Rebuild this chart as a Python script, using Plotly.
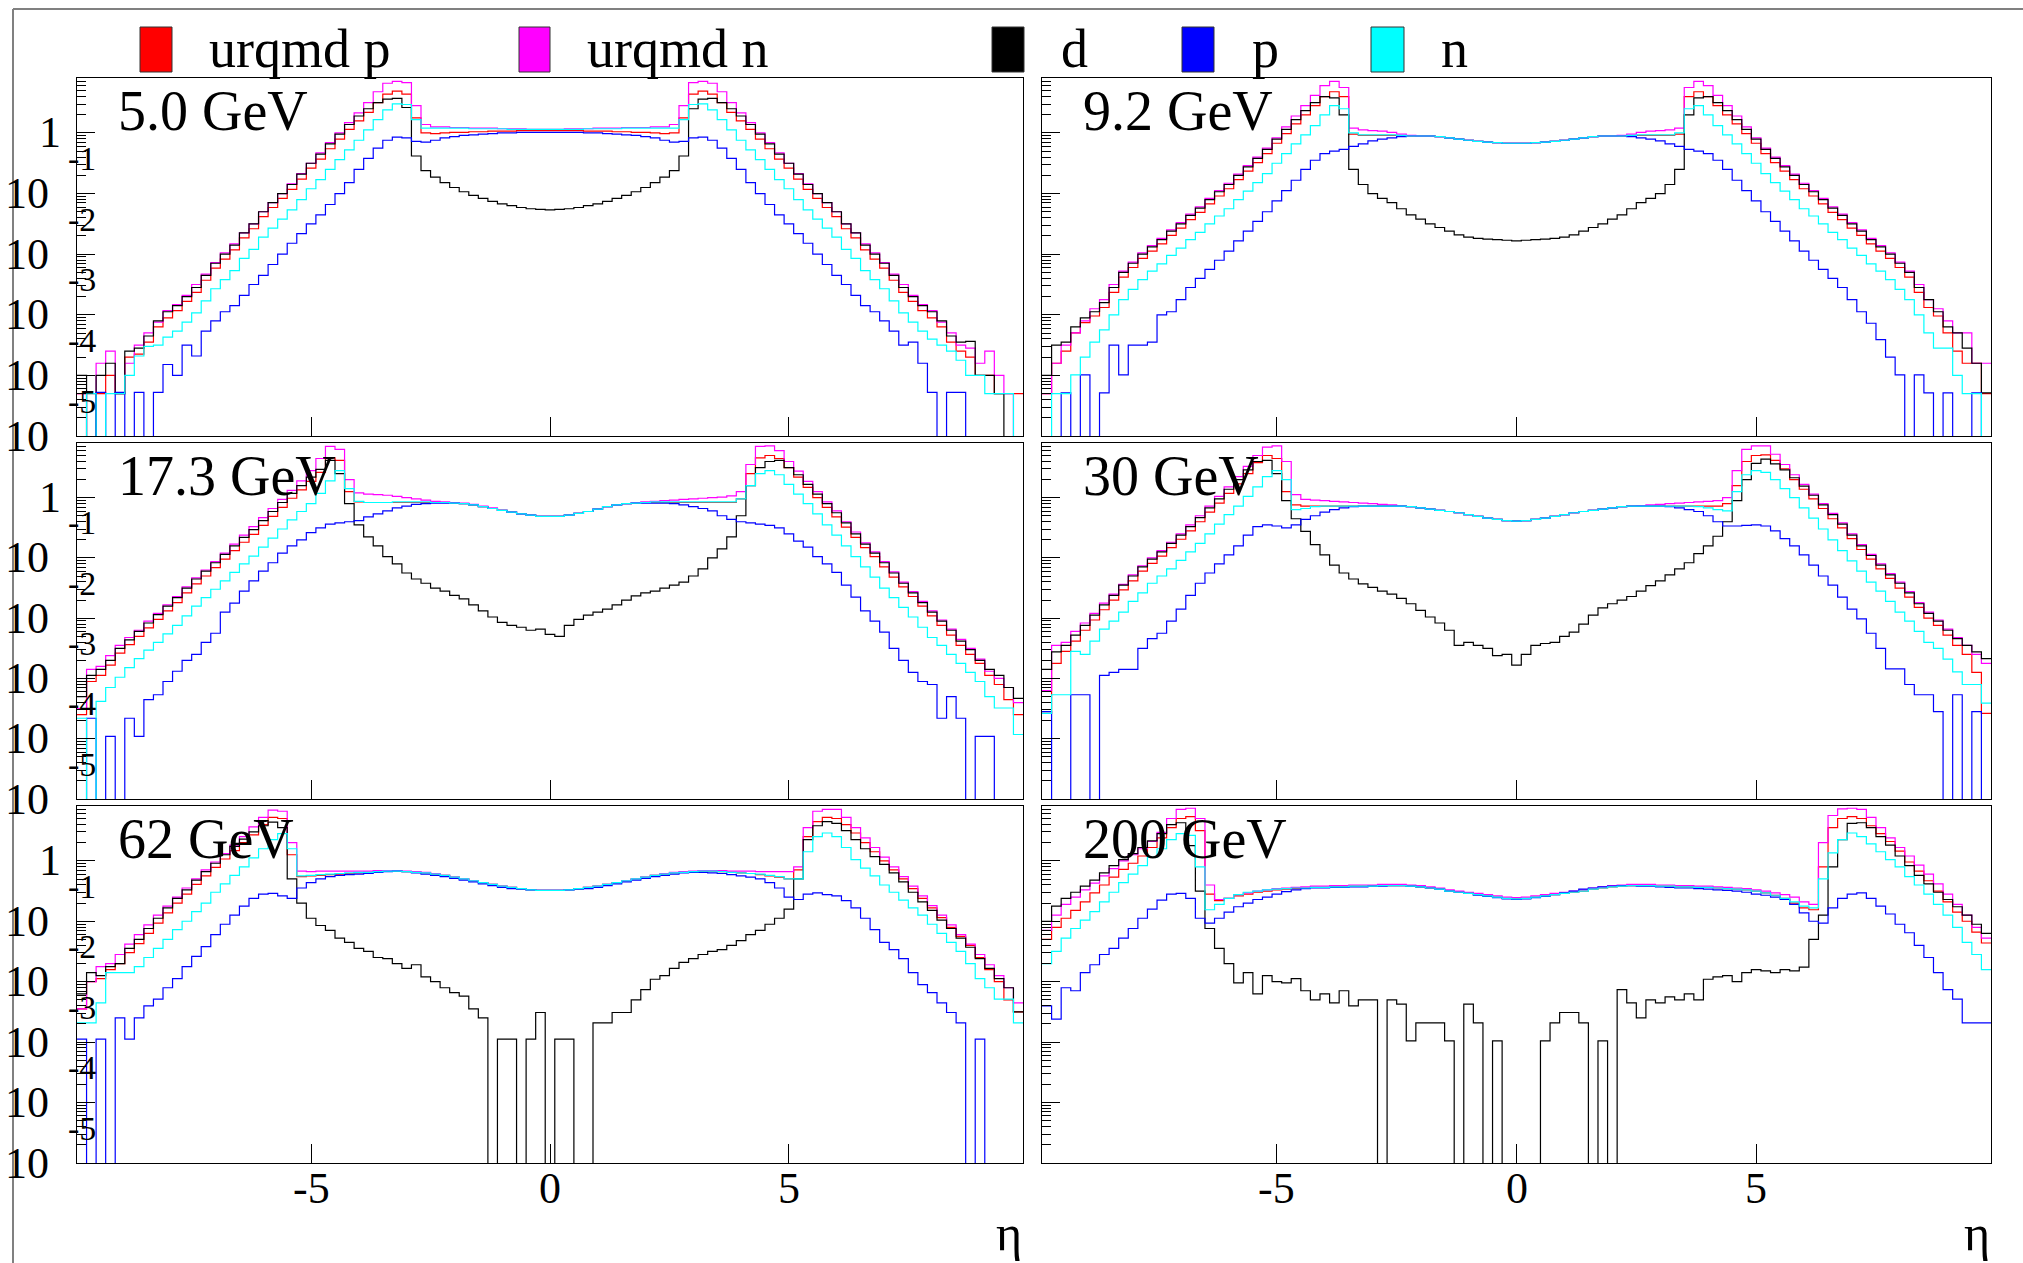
import plotly.graph_objects as go

N = None  # empty bin

# ---------------- data (log10 of dN/d eta, bins of 0.2 from -9.9 to 9.9) ----------------
X_MIN = -9.9
BIN_W = 0.2
N_BINS = 99

ENERGIES = ["5.0 GeV", "9.2 GeV", "17.3 GeV", "30 GeV", "62 GeV", "200 GeV"]
SERIES = ["urqmd p", "urqmd n", "d", "p", "n"]
COLORS = ["#ff0000", "#ff00ff", "#000000", "#0000ff", "#00ffff"]
X_TICKS = [-5, 0, 5]
X_TICK_TEXT = ["-5", "0", "5"]
Y_DECADES = [0, -1, -2, -3, -4, -5]

# ---- 5.0 GeV ----
E5_UP = [-4.3, -4.3, -4.3, -4.0, -4.3, -3.7, -3.65, -3.45, -3.2, -3.05,
         -2.93, -2.78, -2.63, -2.43, -2.23, -2.08, -1.93, -1.73, -1.58, -1.38,
         -1.23, -1.08, -0.93, -0.76, -0.58, -0.43, -0.26, -0.1, 0.06, 0.2,
         0.34, 0.5, 0.64, 0.69, 0.64, 0.25, 0.0, -0.01, 0.0, 0.01,
         0.01, 0.02, 0.02, 0.03, 0.03, 0.03, 0.04, 0.04, 0.04, 0.04,
         0.04, 0.04, 0.04, 0.03, 0.03, 0.03, 0.02, 0.02, 0.01, 0.01,
         0.0, -0.01, 0.0, 0.25, 0.64, 0.69, 0.64, 0.5, 0.34, 0.2,
         0.06, -0.1, -0.26, -0.43, -0.58, -0.76, -0.93, -1.08, -1.23, -1.38,
         -1.58, -1.73, -1.93, -2.08, -2.23, -2.43, -2.63, -2.78, -2.93, -3.05,
         -3.2, -3.45, -3.6, -3.7, -4.0, -4.0, -4.3, -4.3, -4.3]
E5_UN = [-4.3, N, -3.8, -3.6, -4.3, -3.8, -3.5, -3.3, -3.12, -2.93,
         -2.83, -2.68, -2.5, -2.33, -2.14, -1.98, -1.83, -1.65, -1.5, -1.3,
         -1.15, -1.0, -0.84, -0.67, -0.5, -0.33, -0.16, 0.0, 0.17, 0.33,
         0.5, 0.68, 0.82, 0.85, 0.83, 0.45, 0.14, 0.1, 0.1, 0.09,
         0.09, 0.08, 0.08, 0.08, 0.07, 0.07, 0.07, 0.06, 0.06, 0.06,
         0.06, 0.07, 0.07, 0.07, 0.08, 0.08, 0.08, 0.09, 0.09, 0.09,
         0.1, 0.1, 0.14, 0.45, 0.83, 0.85, 0.82, 0.68, 0.5, 0.33,
         0.17, 0.0, -0.16, -0.33, -0.5, -0.67, -0.84, -1.0, -1.15, -1.3,
         -1.5, -1.65, -1.83, -1.98, -2.14, -2.33, -2.5, -2.68, -2.83, -2.93,
         -3.12, -3.3, -3.5, -3.55, -3.8, -3.6, -4.0, -4.3, N]
E5_D = [-4.0, N, -4.0, -3.8, -4.3, -3.6, -3.55, -3.35, -3.1, -2.95,
        -2.85, -2.7, -2.55, -2.35, -2.15, -2.0, -1.85, -1.65, -1.5, -1.3,
        -1.15, -1.0, -0.85, -0.68, -0.5, -0.35, -0.18, -0.02, 0.14, 0.28,
        0.4, 0.5, 0.56, 0.57, 0.42, -0.38, -0.62, -0.73, -0.82, -0.9,
        -0.97, -1.03, -1.08, -1.13, -1.17, -1.2, -1.23, -1.25, -1.26, -1.27,
        -1.26, -1.25, -1.23, -1.2, -1.17, -1.13, -1.08, -1.03, -0.97, -0.9,
        -0.82, -0.73, -0.62, -0.38, 0.4, 0.56, 0.57, 0.5, 0.4, 0.28,
        0.14, -0.02, -0.18, -0.35, -0.5, -0.68, -0.85, -1.0, -1.15, -1.3,
        -1.5, -1.65, -1.85, -2.0, -2.15, -2.35, -2.55, -2.7, -2.85, -2.95,
        -3.1, -3.35, -3.45, -3.44, -4.0, -4.0, -4.3, N, N]
E5_P = [N, N, -4.28, N, -4.28, N, -4.28, N, -4.28, -3.82,
        -4.0, -3.5, -3.68, -3.27, -3.1, -2.95, -2.85, -2.68, -2.5, -2.35,
        -2.17, -2.0, -1.82, -1.66, -1.5, -1.35, -1.18, -1.0, -0.82, -0.6,
        -0.42, -0.25, -0.12, -0.07, -0.08, -0.14, -0.15, -0.12, -0.08, -0.06,
        -0.04, -0.03, -0.02, -0.01, 0.0, 0.0, 0.01, 0.01, 0.01, 0.01,
        0.01, 0.01, 0.01, 0.0, 0.0, -0.01, -0.02, -0.03, -0.04, -0.06,
        -0.08, -0.12, -0.15, -0.14, -0.08, -0.07, -0.12, -0.25, -0.42, -0.6,
        -0.82, -1.0, -1.18, -1.35, -1.5, -1.66, -1.82, -2.0, -2.17, -2.35,
        -2.5, -2.68, -2.85, -2.95, -3.1, -3.27, -3.5, -3.45, -3.8, -4.28,
        N, -4.28, -4.28, N, N, N, N, N, N]
E5_N = [N, -4.3, N, -4.3, -4.3, -4.0, -3.68, -3.52, -3.5, -3.37,
        -3.27, -3.12, -2.97, -2.77, -2.57, -2.42, -2.27, -2.07, -1.92, -1.72,
        -1.57, -1.42, -1.27, -1.1, -0.92, -0.77, -0.6, -0.44, -0.28, -0.12,
        0.05, 0.22, 0.38, 0.48, 0.47, 0.22, 0.08, 0.08, 0.08, 0.08,
        0.08, 0.07, 0.07, 0.07, 0.07, 0.06, 0.06, 0.06, 0.06, 0.06,
        0.06, 0.06, 0.06, 0.07, 0.07, 0.07, 0.07, 0.08, 0.08, 0.08,
        0.08, 0.08, 0.08, 0.22, 0.47, 0.48, 0.38, 0.22, 0.05, -0.12,
        -0.28, -0.44, -0.6, -0.77, -0.92, -1.1, -1.27, -1.42, -1.57, -1.72,
        -1.92, -2.07, -2.27, -2.42, -2.57, -2.77, -2.97, -3.12, -3.27, -3.4,
        -3.5, -3.6, -3.75, -4.0, -4.0, -4.3, -4.3, -4.3, N]

# ---- 9.2 GeV ----
E9_UP = [-4.3, -3.8, -3.6, -3.3, -3.13, -3.02, -2.88, -2.63, -2.38, -2.22,
         -2.07, -1.95, -1.83, -1.69, -1.57, -1.43, -1.31, -1.17, -1.04, -0.92,
         -0.77, -0.63, -0.49, -0.34, -0.17, -0.01, 0.15, 0.3, 0.45, 0.6,
         0.68, 0.6, -0.02, -0.04, -0.04, -0.04, -0.04, -0.05, -0.05, -0.05,
         -0.05, -0.06, -0.08, -0.1, -0.12, -0.14, -0.15, -0.16, -0.17, -0.17,
         -0.17, -0.16, -0.15, -0.14, -0.12, -0.1, -0.08, -0.06, -0.05, -0.05,
         -0.05, -0.05, -0.04, -0.04, -0.04, -0.04, -0.02, 0.6, 0.68, 0.6,
         0.45, 0.3, 0.15, -0.01, -0.17, -0.34, -0.49, -0.63, -0.77, -0.92,
         -1.04, -1.17, -1.31, -1.43, -1.57, -1.69, -1.83, -1.95, -2.07, -2.22,
         -2.38, -2.63, -2.88, -3.02, -3.3, -3.6, -3.8, -3.8, -4.3]
E9_UN = [-4.3, -3.8, -3.5, -3.3, -3.1, -2.9, -2.75, -2.5, -2.28, -2.13,
         -1.98, -1.86, -1.74, -1.6, -1.48, -1.34, -1.22, -1.08, -0.95, -0.83,
         -0.68, -0.54, -0.4, -0.25, -0.08, 0.1, 0.28, 0.45, 0.62, 0.78,
         0.85, 0.75, 0.08, 0.05, 0.04, 0.03, 0.01, -0.02, -0.04, -0.05,
         -0.05, -0.06, -0.08, -0.1, -0.12, -0.14, -0.15, -0.16, -0.17, -0.17,
         -0.17, -0.16, -0.15, -0.14, -0.12, -0.1, -0.08, -0.06, -0.05, -0.05,
         -0.04, -0.02, 0.01, 0.03, 0.04, 0.05, 0.08, 0.75, 0.85, 0.78,
         0.62, 0.45, 0.28, 0.1, -0.08, -0.25, -0.4, -0.54, -0.68, -0.83,
         -0.95, -1.08, -1.22, -1.34, -1.48, -1.6, -1.74, -1.86, -1.98, -2.13,
         -2.28, -2.5, -2.75, -2.9, -3.1, -3.3, -3.3, -3.8, -3.8]
E9_D = [-4.0, -3.5, -3.45, -3.2, -3.05, -2.95, -2.8, -2.55, -2.3, -2.15,
        -2.0, -1.88, -1.76, -1.62, -1.5, -1.36, -1.24, -1.1, -0.97, -0.85,
        -0.7, -0.56, -0.42, -0.27, -0.1, 0.06, 0.22, 0.37, 0.5, 0.6,
        0.58, 0.3, -0.6, -0.85, -1.0, -1.08, -1.15, -1.25, -1.35, -1.42,
        -1.5, -1.56, -1.62, -1.68, -1.72, -1.74, -1.75, -1.76, -1.77, -1.78,
        -1.77, -1.76, -1.75, -1.74, -1.72, -1.68, -1.62, -1.56, -1.5, -1.42,
        -1.35, -1.25, -1.15, -1.08, -1.0, -0.85, -0.6, 0.3, 0.58, 0.6,
        0.5, 0.37, 0.22, 0.06, -0.1, -0.27, -0.42, -0.56, -0.7, -0.85,
        -0.97, -1.1, -1.24, -1.36, -1.5, -1.62, -1.76, -1.88, -2.0, -2.15,
        -2.3, -2.55, -2.75, -2.95, -3.2, -3.3, -3.55, -3.8, -4.29]
E9_P = [N, N, -4.29, N, -3.99, N, -4.29, -3.5, -3.99, -3.5,
        -3.5, -3.45, -3.0, -2.95, -2.75, -2.55, -2.4, -2.25, -2.1, -1.95,
        -1.78, -1.62, -1.46, -1.3, -1.12, -0.95, -0.78, -0.6, -0.45, -0.34,
        -0.3, -0.27, -0.22, -0.18, -0.13, -0.1, -0.08, -0.06, -0.05, -0.05,
        -0.05, -0.06, -0.08, -0.1, -0.12, -0.14, -0.15, -0.16, -0.17, -0.17,
        -0.17, -0.16, -0.15, -0.14, -0.12, -0.1, -0.08, -0.06, -0.05, -0.05,
        -0.05, -0.06, -0.08, -0.1, -0.13, -0.18, -0.22, -0.27, -0.3, -0.34,
        -0.45, -0.6, -0.78, -0.95, -1.12, -1.3, -1.46, -1.62, -1.78, -1.95,
        -2.1, -2.25, -2.4, -2.55, -2.75, -2.95, -3.14, -3.41, -3.7, -3.99,
        N, -3.99, -4.29, N, -4.29, N, N, -4.29, N]
E9_N = [N, -4.3, -4.3, -3.99, -3.7, -3.45, -3.25, -3.0, -2.75, -2.58,
        -2.42, -2.28, -2.16, -2.02, -1.9, -1.76, -1.64, -1.5, -1.37, -1.25,
        -1.1, -0.96, -0.82, -0.67, -0.5, -0.34, -0.18, -0.03, 0.12, 0.3,
        0.45, 0.4, 0.0, -0.03, -0.03, -0.03, -0.03, -0.04, -0.05, -0.05,
        -0.05, -0.06, -0.08, -0.1, -0.12, -0.14, -0.15, -0.16, -0.17, -0.17,
        -0.17, -0.16, -0.15, -0.14, -0.12, -0.1, -0.08, -0.06, -0.05, -0.05,
        -0.05, -0.04, -0.03, -0.03, -0.03, -0.03, 0.0, 0.4, 0.45, 0.3,
        0.12, -0.03, -0.18, -0.34, -0.5, -0.67, -0.82, -0.96, -1.1, -1.25,
        -1.37, -1.5, -1.64, -1.76, -1.9, -2.02, -2.16, -2.28, -2.42, -2.58,
        -2.75, -3.0, -3.3, -3.55, -3.55, -4.0, -4.3, -4.3, N]

# ---- 17.3 GeV ----
E17_UP = [-3.6, -3.05, -2.95, -2.78, -2.58, -2.44, -2.3, -2.16, -2.02, -1.88,
          -1.74, -1.58, -1.43, -1.3, -1.16, -1.02, -0.88, -0.74, -0.61, -0.46,
          -0.31, -0.16, -0.01, 0.13, 0.27, 0.42, 0.66, 0.62, 0.1, -0.07,
          -0.08, -0.08, -0.08, -0.08, -0.08, -0.08, -0.08, -0.08, -0.08, -0.09,
          -0.1, -0.12, -0.15, -0.18, -0.21, -0.24, -0.27, -0.29, -0.31, -0.31,
          -0.31, -0.29, -0.26, -0.23, -0.19, -0.15, -0.12, -0.1, -0.09, -0.08,
          -0.08, -0.08, -0.08, -0.08, -0.08, -0.08, -0.08, -0.08, -0.08, -0.02,
          0.4, 0.66, 0.7, 0.65, 0.5, 0.34, 0.17, 0.0, -0.16, -0.32,
          -0.49, -0.66, -0.83, -0.98, -1.15, -1.32, -1.48, -1.64, -1.8, -1.96,
          -2.12, -2.28, -2.45, -2.6, -2.75, -2.95, -3.1, -3.35, -3.6]
E17_UN = [-3.5, -2.85, -2.8, -2.62, -2.45, -2.32, -2.2, -2.05, -1.92, -1.78,
          -1.64, -1.48, -1.33, -1.2, -1.06, -0.92, -0.77, -0.62, -0.48, -0.33,
          -0.18, -0.03, 0.12, 0.28, 0.45, 0.65, 0.85, 0.8, 0.3, 0.08,
          0.06, 0.05, 0.04, 0.02, 0.0, -0.02, -0.04, -0.06, -0.07, -0.08,
          -0.09, -0.11, -0.14, -0.17, -0.21, -0.24, -0.27, -0.29, -0.31, -0.31,
          -0.31, -0.29, -0.26, -0.23, -0.19, -0.15, -0.12, -0.1, -0.08, -0.07,
          -0.06, -0.05, -0.04, -0.03, -0.02, -0.01, 0.0, 0.01, 0.03, 0.1,
          0.55, 0.85, 0.86, 0.78, 0.6, 0.44, 0.27, 0.1, -0.07, -0.22,
          -0.4, -0.57, -0.75, -0.9, -1.06, -1.23, -1.4, -1.56, -1.72, -1.88,
          -2.03, -2.18, -2.35, -2.5, -2.68, -2.88, -3.0, -3.15, -3.4]
E17_D = [-3.3, -2.95, -2.85, -2.7, -2.5, -2.36, -2.22, -2.08, -1.94, -1.8,
         -1.66, -1.5, -1.35, -1.22, -1.08, -0.94, -0.8, -0.66, -0.53, -0.38,
         -0.23, -0.08, 0.07, 0.2, 0.34, 0.47, 0.62, 0.4, -0.1, -0.45,
         -0.65, -0.8, -0.98, -1.1, -1.25, -1.35, -1.42, -1.5, -1.55, -1.62,
         -1.68, -1.78, -1.88, -1.98, -2.07, -2.12, -2.15, -2.2, -2.18, -2.27,
         -2.3, -2.12, -2.02, -1.95, -1.9, -1.85, -1.78, -1.7, -1.63, -1.58,
         -1.55, -1.5, -1.45, -1.4, -1.3, -1.18, -1.0, -0.85, -0.65, -0.3,
         0.2, 0.5, 0.6, 0.62, 0.5, 0.38, 0.22, 0.06, -0.1, -0.25,
         -0.42, -0.6, -0.77, -0.92, -1.08, -1.25, -1.42, -1.58, -1.74, -1.9,
         -2.05, -2.2, -2.38, -2.52, -2.7, -2.85, -2.95, -3.15, -3.33]
E17_P = [N, -3.66, N, -3.96, N, -3.66, -3.96, -3.35, -3.27, -3.05,
         -2.88, -2.7, -2.6, -2.4, -2.25, -1.9, -1.75, -1.55, -1.38, -1.22,
         -1.08, -0.92, -0.8, -0.7, -0.58, -0.5, -0.44, -0.42, -0.4, -0.38,
         -0.32, -0.27, -0.22, -0.17, -0.14, -0.11, -0.1, -0.09, -0.09, -0.09,
         -0.1, -0.12, -0.15, -0.18, -0.21, -0.24, -0.27, -0.29, -0.31, -0.31,
         -0.31, -0.29, -0.26, -0.23, -0.19, -0.15, -0.12, -0.1, -0.09, -0.09,
         -0.09, -0.09, -0.1, -0.12, -0.15, -0.18, -0.22, -0.3, -0.36, -0.4,
         -0.42, -0.44, -0.46, -0.5, -0.6, -0.72, -0.82, -0.98, -1.1, -1.24,
         -1.45, -1.65, -1.88, -2.05, -2.23, -2.5, -2.7, -2.9, -3.05, -3.1,
         -3.66, -3.3, -3.66, N, -3.96, -3.96, N, N, N]
E17_N = [-3.66, N, -3.38, -3.15, -2.98, -2.82, -2.67, -2.53, -2.4, -2.26,
         -2.12, -1.96, -1.8, -1.66, -1.52, -1.38, -1.24, -1.1, -0.97, -0.82,
         -0.67, -0.52, -0.37, -0.23, -0.1, 0.07, 0.28, 0.45, 0.15, -0.06,
         -0.08, -0.08, -0.08, -0.07, -0.07, -0.07, -0.07, -0.08, -0.08, -0.09,
         -0.1, -0.12, -0.15, -0.18, -0.21, -0.24, -0.27, -0.29, -0.31, -0.31,
         -0.31, -0.29, -0.26, -0.23, -0.19, -0.15, -0.12, -0.1, -0.09, -0.08,
         -0.07, -0.07, -0.07, -0.07, -0.07, -0.07, -0.07, -0.07, -0.07, -0.02,
         0.2, 0.4, 0.45, 0.38, 0.22, 0.06, -0.1, -0.27, -0.45, -0.62,
         -0.8, -0.98, -1.15, -1.32, -1.5, -1.66, -1.82, -1.98, -2.15, -2.32,
         -2.45, -2.6, -2.75, -2.9, -3.05, -3.3, -3.49, -3.49, -3.93]

# ---- 30 GeV ----
E30_UP = [-3.58, -2.75, -2.55, -2.38, -2.2, -2.03, -1.86, -1.7, -1.53, -1.38,
          -1.22, -1.09, -0.97, -0.83, -0.69, -0.55, -0.4, -0.24, -0.09, 0.07,
          0.23, 0.4, 0.58, 0.7, 0.65, 0.1, -0.12, -0.14, -0.14, -0.14,
          -0.14, -0.14, -0.14, -0.14, -0.14, -0.14, -0.14, -0.14, -0.15, -0.17,
          -0.19, -0.21, -0.23, -0.25, -0.28, -0.31, -0.34, -0.36, -0.38, -0.39,
          -0.38, -0.36, -0.34, -0.31, -0.28, -0.25, -0.23, -0.21, -0.19, -0.17,
          -0.15, -0.14, -0.14, -0.14, -0.14, -0.14, -0.14, -0.14, -0.14, -0.14,
          -0.14, -0.1, 0.2, 0.6, 0.7, 0.71, 0.62, 0.48, 0.3, 0.14,
          -0.02, -0.18, -0.35, -0.5, -0.68, -0.86, -1.02, -1.18, -1.34, -1.5,
          -1.65, -1.82, -2.0, -2.12, -2.28, -2.45, -2.6, -2.9, -3.58]
E30_UN = [-3.2, -2.45, -2.4, -2.22, -2.08, -1.92, -1.75, -1.6, -1.44, -1.28,
          -1.13, -1.0, -0.88, -0.74, -0.6, -0.45, -0.3, -0.14, 0.02, 0.18,
          0.35, 0.52, 0.7, 0.84, 0.86, 0.6, 0.05, -0.03, -0.04, -0.05,
          -0.06, -0.07, -0.08, -0.09, -0.1, -0.11, -0.12, -0.14, -0.15, -0.17,
          -0.19, -0.21, -0.23, -0.25, -0.28, -0.31, -0.34, -0.36, -0.38, -0.39,
          -0.38, -0.36, -0.34, -0.31, -0.28, -0.25, -0.23, -0.21, -0.19, -0.17,
          -0.15, -0.14, -0.13, -0.12, -0.11, -0.1, -0.09, -0.08, -0.07, -0.06,
          -0.05, 0.0, 0.45, 0.8, 0.86, 0.86, 0.72, 0.55, 0.38, 0.22,
          0.06, -0.1, -0.26, -0.42, -0.6, -0.78, -0.94, -1.1, -1.26, -1.4,
          -1.56, -1.74, -1.9, -2.03, -2.18, -2.32, -2.45, -2.6, -2.75]
E30_D = [-2.85, -2.56, -2.45, -2.28, -2.12, -1.95, -1.78, -1.62, -1.45, -1.3,
         -1.15, -1.02, -0.9, -0.76, -0.62, -0.48, -0.33, -0.17, -0.02, 0.14,
         0.3, 0.46, 0.6, 0.62, 0.4, -0.05, -0.35, -0.56, -0.78, -0.95,
         -1.12, -1.25, -1.35, -1.43, -1.49, -1.55, -1.6, -1.67, -1.76, -1.87,
         -1.98, -2.08, -2.2, -2.45, -2.4, -2.45, -2.5, -2.62, -2.6, -2.78,
         -2.6, -2.45, -2.42, -2.4, -2.3, -2.23, -2.1, -1.95, -1.83, -1.76,
         -1.7, -1.64, -1.55, -1.46, -1.38, -1.28, -1.18, -1.08, -0.93, -0.8,
         -0.64, -0.4, -0.05, 0.3, 0.57, 0.64, 0.56, 0.46, 0.33, 0.19,
         0.04, -0.12, -0.28, -0.44, -0.62, -0.8, -0.96, -1.12, -1.28, -1.42,
         -1.58, -1.76, -1.92, -2.05, -2.2, -2.34, -2.45, -2.56, -2.67]
E30_P = [-3.55, N, N, -3.27, -3.27, N, -2.95, -2.9, -2.85, -2.85,
         -2.5, -2.34, -2.25, -2.05, -1.85, -1.62, -1.42, -1.25, -1.1, -0.95,
         -0.8, -0.62, -0.48, -0.45, -0.47, -0.5, -0.45, -0.36, -0.3, -0.24,
         -0.2, -0.17, -0.15, -0.14, -0.14, -0.14, -0.14, -0.14, -0.15, -0.17,
         -0.19, -0.21, -0.23, -0.25, -0.28, -0.31, -0.34, -0.36, -0.38, -0.39,
         -0.38, -0.36, -0.34, -0.31, -0.28, -0.25, -0.23, -0.21, -0.19, -0.17,
         -0.15, -0.14, -0.14, -0.14, -0.14, -0.15, -0.17, -0.2, -0.23, -0.3,
         -0.4, -0.47, -0.47, -0.46, -0.45, -0.47, -0.55, -0.68, -0.8, -0.95,
         -1.12, -1.3, -1.45, -1.65, -1.85, -2.01, -2.25, -2.5, -2.84, -2.84,
         -3.1, -3.27, -3.27, -3.55, N, -3.27, N, -3.55, N]
E30_N = [-3.58, -3.27, -3.27, -2.55, -2.6, -2.38, -2.18, -2.05, -1.9, -1.72,
         -1.58, -1.42, -1.3, -1.18, -1.04, -0.9, -0.76, -0.6, -0.44, -0.28,
         -0.14, 0.02, 0.18, 0.35, 0.45, 0.3, -0.2, -0.18, -0.15, -0.14,
         -0.14, -0.14, -0.14, -0.14, -0.14, -0.14, -0.14, -0.14, -0.15, -0.17,
         -0.19, -0.21, -0.23, -0.25, -0.28, -0.31, -0.34, -0.36, -0.38, -0.39,
         -0.38, -0.36, -0.34, -0.31, -0.28, -0.25, -0.23, -0.21, -0.19, -0.17,
         -0.15, -0.14, -0.14, -0.14, -0.14, -0.14, -0.14, -0.14, -0.15, -0.17,
         -0.2, -0.22, 0.1, 0.38, 0.45, 0.42, 0.3, 0.15, 0.0, -0.17,
         -0.34, -0.52, -0.7, -0.88, -1.05, -1.22, -1.4, -1.55, -1.72, -1.9,
         -2.05, -2.22, -2.4, -2.5, -2.68, -2.89, -3.1, -3.1, -3.41]

# ---- 62 GeV ----
E62_UP = [-2.45, -2.0, -1.95, -1.8, -1.7, -1.52, -1.37, -1.2, -1.03, -0.86,
          -0.7, -0.55, -0.39, -0.25, -0.11, 0.03, 0.17, 0.3, 0.43, 0.6,
          0.72, 0.7, 0.1, -0.26, -0.25, -0.24, -0.23, -0.22, -0.21, -0.2,
          -0.19, -0.18, -0.17, -0.17, -0.18, -0.19, -0.2, -0.22, -0.24, -0.27,
          -0.3, -0.33, -0.36, -0.39, -0.42, -0.44, -0.46, -0.48, -0.49, -0.49,
          -0.49, -0.48, -0.46, -0.44, -0.42, -0.39, -0.36, -0.33, -0.3, -0.27,
          -0.24, -0.22, -0.2, -0.19, -0.18, -0.17, -0.17, -0.18, -0.19, -0.2,
          -0.21, -0.23, -0.25, -0.27, -0.3, -0.15, 0.4, 0.65, 0.72, 0.7,
          0.6, 0.46, 0.3, 0.15, 0.0, -0.15, -0.3, -0.46, -0.62, -0.78,
          -0.94, -1.1, -1.25, -1.4, -1.6, -1.8, -2.0, -2.3, -2.5]
E62_UN = [-2.45, -2.0, -1.75, -1.7, -1.55, -1.38, -1.22, -1.06, -0.9, -0.75,
          -0.6, -0.45, -0.3, -0.15, -0.02, 0.12, 0.26, 0.4, 0.56, 0.72,
          0.84, 0.82, 0.3, -0.17, -0.18, -0.17, -0.17, -0.17, -0.17, -0.17,
          -0.17, -0.16, -0.16, -0.16, -0.17, -0.18, -0.19, -0.21, -0.24, -0.27,
          -0.3, -0.33, -0.36, -0.39, -0.42, -0.44, -0.46, -0.48, -0.49, -0.49,
          -0.49, -0.48, -0.46, -0.44, -0.42, -0.39, -0.36, -0.33, -0.3, -0.27,
          -0.24, -0.21, -0.19, -0.18, -0.17, -0.16, -0.16, -0.16, -0.17, -0.17,
          -0.17, -0.18, -0.18, -0.18, -0.18, -0.1, 0.55, 0.82, 0.85, 0.85,
          0.72, 0.55, 0.38, 0.22, 0.06, -0.1, -0.26, -0.42, -0.58, -0.74,
          -0.9, -1.06, -1.22, -1.38, -1.55, -1.72, -1.9, -2.1, -2.35]
E62_D = [-2.2, -1.85, -1.9, -1.75, -1.7, -1.45, -1.3, -1.12, -0.95, -0.78,
         -0.62, -0.48, -0.32, -0.18, -0.04, 0.1, 0.24, 0.36, 0.48, 0.58,
         0.64, 0.55, -0.3, -0.7, -0.95, -1.07, -1.15, -1.28, -1.35, -1.45,
         -1.5, -1.6, -1.62, -1.7, -1.78, -1.72, -1.92, -2.0, -2.1, -2.18,
         -2.24, -2.45, -2.6, N, -2.95, -2.95, N, -2.95, -2.51, N,
         -2.95, -2.95, N, N, -2.68, -2.68, -2.51, -2.51, -2.3, -2.13,
         -1.96, -1.9, -1.78, -1.68, -1.62, -1.55, -1.5, -1.47, -1.4, -1.32,
         -1.22, -1.15, -1.05, -0.95, -0.8, -0.3, 0.35, 0.58, 0.65, 0.62,
         0.5, 0.35, 0.2, 0.07, -0.06, -0.2, -0.35, -0.52, -0.68, -0.82,
         -0.98, -1.12, -1.28, -1.43, -1.62, -1.78, -1.95, -2.1, -2.5]
E62_P = [-2.95, N, -2.95, N, -2.6, -2.95, -2.6, -2.4, -2.29, -2.1,
         -1.95, -1.75, -1.58, -1.42, -1.22, -1.05, -0.9, -0.75, -0.62, -0.55,
         -0.54, -0.58, -0.62, -0.45, -0.36, -0.3, -0.26, -0.24, -0.23, -0.22,
         -0.21, -0.19, -0.18, -0.17, -0.18, -0.2, -0.22, -0.24, -0.26, -0.29,
         -0.32, -0.35, -0.38, -0.41, -0.44, -0.46, -0.47, -0.48, -0.49, -0.49,
         -0.49, -0.48, -0.47, -0.46, -0.44, -0.41, -0.38, -0.35, -0.32, -0.29,
         -0.26, -0.24, -0.22, -0.2, -0.19, -0.19, -0.2, -0.21, -0.23, -0.25,
         -0.27, -0.3, -0.36, -0.45, -0.6, -0.64, -0.55, -0.53, -0.56, -0.58,
         -0.66, -0.78, -0.95, -1.14, -1.35, -1.47, -1.62, -1.85, -2.05, -2.18,
         -2.35, -2.51, -2.68, N, -2.95, N, N, N, N]
E62_N = [-2.68, -2.68, -2.35, -1.85, -1.85, -1.85, -1.75, -1.6, -1.45, -1.3,
         -1.14, -1.0, -0.84, -0.7, -0.52, -0.38, -0.24, -0.1, 0.05, 0.2,
         0.35, 0.45, 0.2, -0.25, -0.24, -0.23, -0.22, -0.21, -0.2, -0.19,
         -0.19, -0.18, -0.17, -0.17, -0.18, -0.19, -0.2, -0.22, -0.24, -0.27,
         -0.3, -0.33, -0.36, -0.39, -0.42, -0.44, -0.46, -0.48, -0.49, -0.49,
         -0.49, -0.48, -0.46, -0.44, -0.42, -0.39, -0.36, -0.33, -0.3, -0.27,
         -0.24, -0.22, -0.2, -0.19, -0.18, -0.17, -0.17, -0.18, -0.19, -0.2,
         -0.21, -0.22, -0.24, -0.26, -0.3, -0.3, 0.15, 0.4, 0.46, 0.4,
         0.22, 0.02, -0.12, -0.25, -0.4, -0.52, -0.65, -0.78, -0.9, -1.05,
         -1.2, -1.35, -1.5, -1.7, -1.95, -2.1, -2.29, -2.29, -2.68]

# ---- 200 GeV ----
E200_UP = [-1.3, -1.1, -0.95, -0.82, -0.68, -0.53, -0.4, -0.27, -0.14, -0.04,
           0.08, 0.22, 0.38, 0.55, 0.7, 0.73, 0.5, -0.55, -0.66, -0.62,
           -0.58, -0.55, -0.52, -0.5, -0.48, -0.47, -0.46, -0.45, -0.44, -0.44,
           -0.43, -0.43, -0.42, -0.42, -0.42, -0.41, -0.41, -0.41, -0.42, -0.43,
           -0.45, -0.47, -0.5, -0.52, -0.54, -0.56, -0.58, -0.6, -0.62, -0.63,
           -0.62, -0.6, -0.58, -0.56, -0.54, -0.52, -0.5, -0.47, -0.45, -0.43,
           -0.42, -0.41, -0.41, -0.41, -0.42, -0.42, -0.43, -0.43, -0.44, -0.44,
           -0.45, -0.46, -0.47, -0.48, -0.5, -0.53, -0.57, -0.62, -0.7, -0.78,
           -0.81, -0.1, 0.55, 0.7, 0.73, 0.7, 0.58, 0.45, 0.32, 0.16,
           -0.02, -0.17, -0.33, -0.5, -0.68, -0.85, -1.0, -1.18, -1.36]
E200_UN = [-1.15, -0.9, -0.72, -0.6, -0.48, -0.37, -0.25, -0.13, 0.0, 0.1,
           0.2, 0.32, 0.47, 0.7, 0.85, 0.87, 0.7, -0.4, -0.64, -0.62,
           -0.56, -0.53, -0.5, -0.48, -0.46, -0.45, -0.44, -0.43, -0.42, -0.42,
           -0.41, -0.41, -0.4, -0.4, -0.4, -0.39, -0.39, -0.39, -0.4, -0.41,
           -0.43, -0.45, -0.48, -0.5, -0.52, -0.54, -0.56, -0.58, -0.6, -0.61,
           -0.6, -0.58, -0.56, -0.54, -0.52, -0.5, -0.48, -0.45, -0.43, -0.41,
           -0.4, -0.39, -0.39, -0.39, -0.4, -0.4, -0.41, -0.41, -0.42, -0.42,
           -0.43, -0.44, -0.45, -0.46, -0.48, -0.5, -0.53, -0.56, -0.6, -0.68,
           -0.72, 0.3, 0.75, 0.86, 0.87, 0.85, 0.72, 0.55, 0.38, 0.22,
           0.08, -0.07, -0.22, -0.38, -0.55, -0.72, -0.9, -1.1, -1.28]
E200_D = [-1.0, -0.75, -0.62, -0.52, -0.42, -0.32, -0.2, -0.08, 0.02, 0.12,
          0.22, 0.33, 0.45, 0.6, 0.63, 0.25, -0.5, -1.12, -1.45, -1.7,
          -2.02, -1.85, -2.2, -1.9, -2.0, -2.02, -1.95, -2.15, -2.3, -2.2,
          -2.35, -2.15, -2.4, -2.3, -2.3, N, -2.3, -2.37, -2.98, -2.68,
          -2.68, -2.68, -2.98, N, -2.37, -2.68, N, -2.98, N, N,
          N, N, -2.98, -2.68, -2.51, -2.51, -2.68, N, -2.98, N,
          -2.13, -2.35, -2.6, -2.3, -2.35, -2.25, -2.3, -2.2, -2.3, -1.96,
          -1.92, -1.9, -2.0, -1.85, -1.8, -1.82, -1.85, -1.8, -1.82, -1.76,
          -1.3, -0.9, -0.1, 0.35, 0.62, 0.63, 0.55, 0.4, 0.26, 0.08,
          -0.08, -0.24, -0.38, -0.52, -0.64, -0.76, -0.9, -1.05, -1.2]
E200_P = [-2.4, -2.62, -2.1, -2.15, -1.85, -1.72, -1.55, -1.45, -1.28, -1.12,
          -0.95, -0.8, -0.65, -0.55, -0.54, -0.62, -0.95, -1.03, -0.95, -0.85,
          -0.76, -0.7, -0.64, -0.6, -0.55, -0.51, -0.48, -0.46, -0.45, -0.45,
          -0.44, -0.44, -0.43, -0.43, -0.42, -0.42, -0.41, -0.41, -0.42, -0.43,
          -0.45, -0.47, -0.5, -0.52, -0.54, -0.57, -0.59, -0.61, -0.63, -0.64,
          -0.63, -0.61, -0.59, -0.56, -0.53, -0.5, -0.47, -0.45, -0.43, -0.42,
          -0.41, -0.41, -0.42, -0.42, -0.43, -0.44, -0.45, -0.45, -0.46, -0.47,
          -0.48, -0.49, -0.5, -0.52, -0.55, -0.57, -0.6, -0.64, -0.72, -0.86,
          -1.0, -1.03, -0.78, -0.62, -0.55, -0.53, -0.62, -0.75, -0.88, -1.05,
          -1.19, -1.4, -1.6, -1.85, -2.13, -2.29, -2.68, -2.68, -2.68]
E200_N = [-1.7, -1.5, -1.28, -1.12, -0.98, -0.84, -0.68, -0.52, -0.36, -0.22,
          -0.08, 0.06, 0.2, 0.35, 0.45, 0.42, -0.1, -0.81, -0.72, -0.62,
          -0.56, -0.52, -0.5, -0.48, -0.47, -0.46, -0.45, -0.45, -0.44, -0.44,
          -0.43, -0.43, -0.42, -0.42, -0.42, -0.41, -0.41, -0.41, -0.42, -0.43,
          -0.45, -0.47, -0.5, -0.52, -0.54, -0.56, -0.58, -0.6, -0.62, -0.63,
          -0.62, -0.6, -0.58, -0.56, -0.54, -0.52, -0.5, -0.47, -0.45, -0.43,
          -0.42, -0.41, -0.41, -0.41, -0.42, -0.42, -0.43, -0.43, -0.44, -0.44,
          -0.45, -0.46, -0.47, -0.48, -0.5, -0.53, -0.57, -0.62, -0.68, -0.75,
          -0.78, -0.3, 0.13, 0.35, 0.46, 0.4, 0.28, 0.15, 0.02, -0.1,
          -0.26, -0.4, -0.55, -0.72, -0.9, -1.1, -1.35, -1.55, -1.8]

PANELS = [
    ("E5", [E5_UP, E5_UN, E5_D, E5_P, E5_N]),
    ("E9", [E9_UP, E9_UN, E9_D, E9_P, E9_N]),
    ("E17", [E17_UP, E17_UN, E17_D, E17_P, E17_N]),
    ("E30", [E30_UP, E30_UN, E30_D, E30_P, E30_N]),
    ("E62", [E62_UP, E62_UN, E62_D, E62_P, E62_N]),
    ("E200", [E200_UP, E200_UN, E200_D, E200_P, E200_N]),
]

# ---------------- layout geometry (pixels of the 2023 x 1263 canvas) ----------------
W, H = 2023, 1263
COL_PX = [(77, 1023), (1042, 1991)]
ROW_PX = [(78, 436), (443, 799), (806, 1163)]
Y_RANGE = [-5, 0.907]
FONT = "Liberation Serif"


def px_x(x):
    return x / W


def px_y(y):
    return 1 - y / H


edges = [round(X_MIN + BIN_W * k, 4) for k in range(N_BINS + 1)]

fig = go.Figure()
layout = dict(
    width=W, height=H, autosize=False,
    margin=dict(l=0, r=0, t=0, b=0, pad=0),
    paper_bgcolor="white", plot_bgcolor="white",
    showlegend=False,
)

minor_vals = []
for e in range(-5, 1):
    for m in range(2, 10):
        v = m * 10.0 ** e
        if v < 10 ** Y_RANGE[1]:
            minor_vals.append(v)

annotations = []
shapes = []

for k, (name, series) in enumerate(PANELS):
    row, col = divmod(k, 2)
    ax = "" if k == 0 else str(k + 1)
    x0, x1 = COL_PX[col]
    ytop, ybot = ROW_PX[row]
    layout["xaxis" + ax] = dict(
        domain=[px_x(x0), px_x(x1)], anchor="y" + ax, range=[-9.9, 9.9],
        tickmode="array", tickvals=X_TICKS, ticks="inside", ticklen=19,
        tickcolor="black", tickwidth=1, showticklabels=False,
        showline=True, mirror=True, linecolor="black", linewidth=1,
        showgrid=False, zeroline=False, fixedrange=True,
    )
    layout["yaxis" + ax] = dict(
        domain=[px_y(ybot), px_y(ytop)], anchor="x" + ax, type="log", range=Y_RANGE,
        tickmode="array", tickvals=[10.0 ** d for d in Y_DECADES], ticks="inside",
        ticklen=18, tickcolor="black", tickwidth=1, showticklabels=False,
        minor=dict(tickmode="array", tickvals=minor_vals, ticks="inside", ticklen=9,
                   tickcolor="black", tickwidth=1, showgrid=False),
        showline=True, mirror=True, linecolor="black", linewidth=1,
        showgrid=False, zeroline=False, fixedrange=True,
    )
    for s_idx, vals in enumerate(series):
        if len(vals) != N_BINS:
            raise ValueError(f"{name} series {SERIES[s_idx]} has {len(vals)} bins")
        yv = [1e-9 if v is None else 10.0 ** v for v in vals]
        fig.add_trace(go.Scatter(
            x=edges, y=yv + [yv[-1]], mode="lines",
            line=dict(color=COLORS[s_idx], width=1.2, shape="hv"),
            xaxis="x" + ax, yaxis="y" + ax, hoverinfo="skip", name=SERIES[s_idx],
        ))
    # energy label
    annotations.append(dict(
        text=ENERGIES[k], xref="paper", yref="paper",
        x=px_x(x0 + 39), y=px_y(ytop + 33), xanchor="left", yanchor="middle",
        showarrow=False, font=dict(family=FONT, size=56, color="black"),
    ))
    # y-axis labels on left column
    if col == 0:
        for d in Y_DECADES:
            if d == 0:
                annotations.append(dict(
                    text="1", xref="paper", yref="y" + ax, x=px_x(63), y=d,
                    xanchor="right", yanchor="middle", showarrow=False,
                    font=dict(family=FONT, size=44, color="black")))
            else:
                annotations.append(dict(
                    text="10", xref="paper", yref="y" + ax, x=px_x(51), y=d,
                    xanchor="right", yanchor="middle", showarrow=False,
                    font=dict(family=FONT, size=44, color="black")))
                annotations.append(dict(
                    text=str(d), xref="paper", yref="y" + ax, x=px_x(66), y=d,
                    yshift=35, xanchor="left", yanchor="middle", showarrow=False,
                    font=dict(family=FONT, size=34, color="black")))
    # x-axis labels on bottom row
    if row == 2:
        for tv, tt in zip(X_TICKS, X_TICK_TEXT):
            annotations.append(dict(
                text=tt, xref="x" + ax, yref="paper", x=tv, y=px_y(1188),
                xanchor="center", yanchor="middle", showarrow=False,
                font=dict(family=FONT, size=44, color="black")))
        annotations.append(dict(
            text="η", xref="paper", yref="paper", x=px_x(x1 + 1), y=px_y(1233),
            xanchor="right", yanchor="middle", showarrow=False,
            font=dict(family=FONT, size=50, color="black")))

# legend
LEG_BOX_PX = [(140, 172), (519, 550), (992, 1024), (1182, 1214), (1371, 1404)]
LEG_TEXT_PX = [207, 585, 1059, 1250, 1439]
for (bx0, bx1), tx, label, color in zip(LEG_BOX_PX, LEG_TEXT_PX, SERIES, COLORS):
    shapes.append(dict(type="rect", xref="paper", yref="paper",
                       x0=px_x(bx0), x1=px_x(bx1), y0=px_y(72), y1=px_y(27),
                       fillcolor=color, line=dict(color="#333333", width=1)))
    annotations.append(dict(text=label, xref="paper", yref="paper",
                            x=px_x(tx), y=px_y(49), xanchor="left", yanchor="middle",
                            showarrow=False, font=dict(family=FONT, size=54, color="black")))

# outer canvas frame (top and left edges visible)
shapes.append(dict(type="line", xref="paper", yref="paper",
                   x0=px_x(13), x1=px_x(13), y0=-0.01, y1=px_y(9),
                   line=dict(color="#808080", width=2)))
shapes.append(dict(type="line", xref="paper", yref="paper",
                   x0=px_x(13), x1=1.01, y0=px_y(9), y1=px_y(9),
                   line=dict(color="#808080", width=2)))

layout["annotations"] = annotations
layout["shapes"] = shapes
fig.update_layout(**layout)

fig.write_html("out.html", include_plotlyjs=True, full_html=True,
               config={"displayModeBar": False, "staticPlot": True},
               post_script="document.body.style.margin='0';document.body.style.overflow='hidden';")
